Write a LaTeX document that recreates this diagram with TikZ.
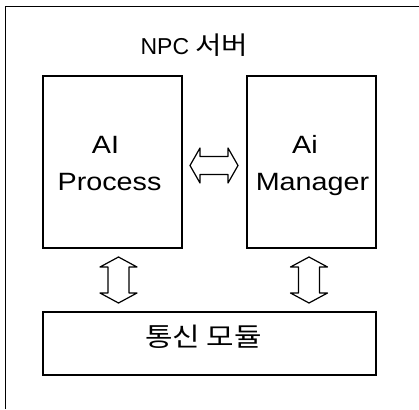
\documentclass[tikz,border=0pt]{standalone}
\usepackage{fontspec}
\setmainfont{Liberation Sans}[FakeStretch=1.15]
\newfontfamily\kr{Noto Sans CJK KR}[FakeStretch=1.15]
\newfontfamily\plain{Liberation Sans}
\begin{document}
\begin{tikzpicture}[x=1pt,y=-1pt,
  box/.style={draw,line width=1.2pt},
  lbl/.style={anchor=base,inner sep=0pt,font=\fontsize{25}{25}\selectfont},
  blockarrow/.style={draw,line width=1.2pt,line join=round,fill=white}]
\useasboundingbox (0,0) rectangle (419,409);
% outer frame (cropped)
\draw[line width=1pt] (5,409) -- (5,7) -- (419,7);
% title
\node[anchor=base,inner sep=0pt] (title) at (194.5,55)
  {\fontsize{23}{23}\selectfont\plain NPC \kr\fontsize{25}{25}\selectfont 서버};
% boxes
\node[box,minimum width=139pt,minimum height=172pt,inner sep=0pt] (proc) at (112.5,162) {};
\node[box,minimum width=129pt,minimum height=172pt,inner sep=0pt] (mgr) at (311.5,162) {};
\node[box,minimum width=333pt,minimum height=63pt,inner sep=0pt] (comm) at (209.5,343.5) {};
% labels
\node[lbl] (t1) at (105.5,153) {AI};
\node[lbl] (t2) at (109.5,190) {Process};
\node[lbl] (t3) at (305,153) {Ai};
\node[lbl] (t4) at (312.5,190) {Manager};
\node[anchor=base,inner sep=0pt] (t5) at (203.5,346) {\kr\fontsize{26}{26}\selectfont 통신 모듈};
% horizontal double arrow between proc and mgr
\draw[blockarrow] (190,165.5) -- (200,148) -- (200,156.5) -- (228,156.5) -- (228,148)
  -- (238,165.5) -- (228,183) -- (228,174.5) -- (200,174.5) -- (200,183) -- cycle;
% vertical double arrows
\foreach \cx/\nm in {118.5/a, 309/b} {
  \draw[blockarrow] (\cx,257) -- (\cx+18.5,267) -- (\cx+10.5,267) -- (\cx+10.5,293)
    -- (\cx+18.5,293) -- (\cx,303) -- (\cx-18.5,293) -- (\cx-10.5,293) -- (\cx-10.5,267)
    -- (\cx-18.5,267) -- cycle;
}
\end{tikzpicture}
\end{document}
